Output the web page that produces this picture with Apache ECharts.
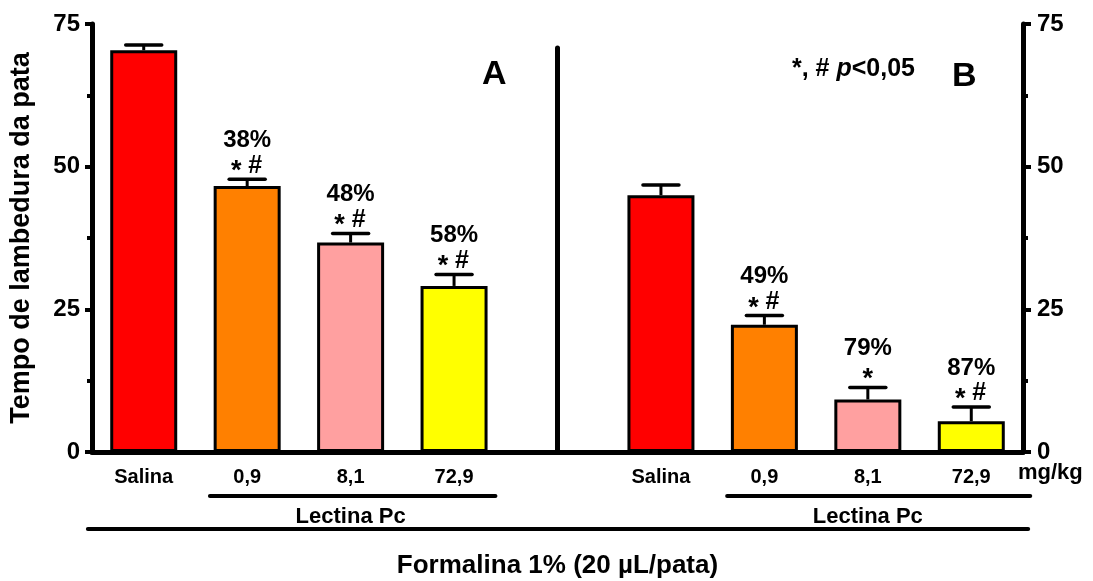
<!DOCTYPE html>
<html>
<head>
<meta charset="utf-8">
<script src="https://cdn.jsdelivr.net/npm/echarts@6/dist/echarts.min.js"></script>
<style>
  html, body { margin: 0; padding: 0; background: #fff; }
  #chart { width: 1093px; height: 581px; }
</style>
</head>
<body>
<div id="chart"></div>
<script>
const categories = ['Salina', '0,9', '8,1', '72,9', '', 'Salina', '0,9', '8,1', '72,9'];
const means = [70.4, 46.6, 36.7, 29.1, null, 45.0, 22.3, 9.2, 5.4];
const sems = [0.9, 1.2, 1.6, 2.0, null, 1.8, 1.6, 2.1, 2.5];
const reductions = ['', '38%', '48%', '58%', '', '', '49%', '79%', '87%'];
const signif = ['', '*#', '*#', '*#', '', '', '*#', '*', '*#'];
const barColors = ['#FF0000', '#FF8000', '#FFA0A0', '#FFFF00', null, '#FF0000', '#FF8000', '#FFA0A0', '#FFFF00'];
const lectinaGroups = [[1, 3], [6, 8]];
const formalinaRange = [[0, 8]];
const dividerIndex = 4;
const dividerTop = 70.8;

const FONT = "'Liberation Sans', Arial, sans-serif";
const chart = echarts.init(document.getElementById('chart'));

const barData = means.map((v, i) => v == null ? '-' : { value: v, itemStyle: { color: barColors[i] } });
const withBar = means.map((v, i) => i).filter(i => means[i] != null);
const errData = withBar.map(i => [i, means[i], sems[i]]);
const annotated = withBar.filter(i => reductions[i] !== '');
const annData = annotated.map(i => [i, means[i] + sems[i]]);

function textEl(text, x, y, size, align, vAlign) {
    return {
        type: 'text',
        style: { text, x, y, fill: '#000', font: 'bold ' + size + 'px ' + FONT, align: align || 'center', verticalAlign: vAlign || 'middle' }
    };
}

const option = {
    animation: false,
    grid: { left: 92, right: 70, top: 24, bottom: 129, containLabel: false, outerBoundsMode: 'none' },
    xAxis: {
        type: 'category',
        data: categories,
        axisLine: { lineStyle: { color: '#000', width: 5 } },
        axisTick: { alignWithLabel: true, interval: 0, length: 9, lineStyle: { color: '#000', width: 4 } },
        axisLabel: { interval: 0, margin: 15, color: '#000', fontFamily: FONT, fontWeight: 'bold', fontSize: 20 }
    },
    yAxis: [
        {
            type: 'value', min: 0, max: 75, interval: 25,
            name: 'Tempo de lambedura da pata',
            nameLocation: 'middle', nameGap: 57,
            nameTextStyle: { color: '#000', fontFamily: FONT, fontWeight: 'bold', fontSize: 27 },
            axisLine: { show: true, lineStyle: { color: '#000', width: 5 } },
            axisTick: { show: true, length: 7, lineStyle: { color: '#000', width: 4 } },
            minorTick: { show: true, splitNumber: 2, length: 5, lineStyle: { color: '#000', width: 4 } },
            axisLabel: { margin: 12, color: '#000', fontFamily: FONT, fontWeight: 'bold', fontSize: 24 },
            splitLine: { show: false }
        },
        {
            type: 'value', min: 0, max: 75, interval: 25, position: 'right',
            axisLine: { show: true, lineStyle: { color: '#000', width: 5 } },
            axisTick: { show: true, length: 8, lineStyle: { color: '#000', width: 4 } },
            minorTick: { show: true, splitNumber: 2, length: 5, lineStyle: { color: '#000', width: 4 } },
            axisLabel: { margin: 14, color: '#000', fontFamily: FONT, fontWeight: 'bold', fontSize: 24 },
            splitLine: { show: false }
        }
    ],
    series: [
        {
            name: 'Tempo',
            type: 'bar',
            barWidth: 67,
            data: barData,
            itemStyle: { borderColor: '#000', borderWidth: 3 },
            markLine: {
                silent: true,
                symbol: ['none', 'none'],
                label: { show: false },
                lineStyle: { color: '#000', width: 5, type: 'solid', cap: 'round' },
                data: [[{ coord: [dividerIndex, 0] }, { coord: [dividerIndex, dividerTop] }]]
            }
        },
        {
            name: 'EPM',
            type: 'custom',
            z: 3,
            data: errData,
            renderItem: (params, api) => {
                const i = api.value(0);
                const top = api.coord([i, api.value(1)]);
                const cap = api.coord([i, api.value(1) + api.value(2)]);
                return {
                    type: 'group',
                    children: [
                        { type: 'line', shape: { x1: top[0], y1: top[1], x2: cap[0], y2: cap[1] }, style: { stroke: '#000', lineWidth: 3 } },
                        { type: 'line', shape: { x1: cap[0] - 18, y1: cap[1], x2: cap[0] + 18, y2: cap[1] }, style: { stroke: '#000', lineWidth: 3.5, lineCap: 'round' } }
                    ]
                };
            }
        },
        {
            name: 'Anotacoes',
            type: 'custom',
            z: 4,
            data: annData,
            renderItem: (params, api) => {
                const k = annotated[params.dataIndex];
                const cap = api.coord([api.value(0), api.value(1)]);
                const x = cap[0], y = cap[1];
                const children = [textEl(reductions[k], x, y - 27, 24, 'center', 'bottom')];
                const s = signif[k];
                if (s === '*') {
                    children.push(textEl('*', x, y + 6, 27, 'center', 'bottom'));
                } else {
                    children.push(textEl('*', x - 11, y + 6, 27, 'center', 'bottom'));
                    children.push(textEl('#', x + 8, y - 1, 25, 'center', 'bottom'));
                }
                return { type: 'group', children };
            }
        },
        {
            name: 'Lectina',
            type: 'custom',
            clip: false,
            silent: true,
            data: lectinaGroups,
            renderItem: (params, api) => {
                const band = api.size([1, 0])[0];
                const a = api.coord([api.value(0), 0]);
                const b = api.coord([api.value(1), 0]);
                const yl = a[1] + 44;
                const endPad = params.dataIndex === 0 ? 0.4 : 0.57;
                return {
                    type: 'group',
                    children: [
                        { type: 'line', shape: { x1: a[0] - 0.36 * band, y1: yl, x2: b[0] + endPad * band, y2: yl }, style: { stroke: '#000', lineWidth: 4, lineCap: 'round' } },
                        textEl('Lectina Pc', (a[0] + b[0]) / 2, a[1] + 65, 22)
                    ]
                };
            }
        },
        {
            name: 'Formalina',
            type: 'custom',
            clip: false,
            silent: true,
            data: formalinaRange,
            renderItem: (params, api) => {
                const band = api.size([1, 0])[0];
                const a = api.coord([api.value(0), 0]);
                const b = api.coord([api.value(1), 0]);
                const yl = a[1] + 77;
                return {
                    type: 'group',
                    children: [
                        { type: 'line', shape: { x1: a[0] - 0.54 * band, y1: yl, x2: b[0] + 0.55 * band, y2: yl }, style: { stroke: '#000', lineWidth: 4, lineCap: 'round' } },
                        textEl('Formalina 1% (20 µL/pata)', (a[0] + b[0]) / 2, a[1] + 114, 26)
                    ]
                };
            }
        }
    ],
    graphic: [
        { type: 'text', left: 482, top: 58, style: { text: 'A', fill: '#000', font: 'bold 34px ' + FONT } },
        { type: 'text', left: 952, top: 60, style: { text: 'B', fill: '#000', font: 'bold 34px ' + FONT } },
        {
            type: 'text', left: 792, top: 57,
            style: {
                text: '{n|*, # }{i|p}{n|<0,05}',
                rich: {
                    n: { fill: '#000', font: 'bold 25px ' + FONT },
                    i: { fill: '#000', font: 'italic bold 25px ' + FONT }
                }
            }
        },
        { type: 'text', left: 1018, top: 462, style: { text: 'mg/kg', fill: '#000', font: 'bold 22px ' + FONT } }
    ]
};

chart.setOption(option);
window.addEventListener('resize', () => chart.resize());
</script>
</body>
</html>
